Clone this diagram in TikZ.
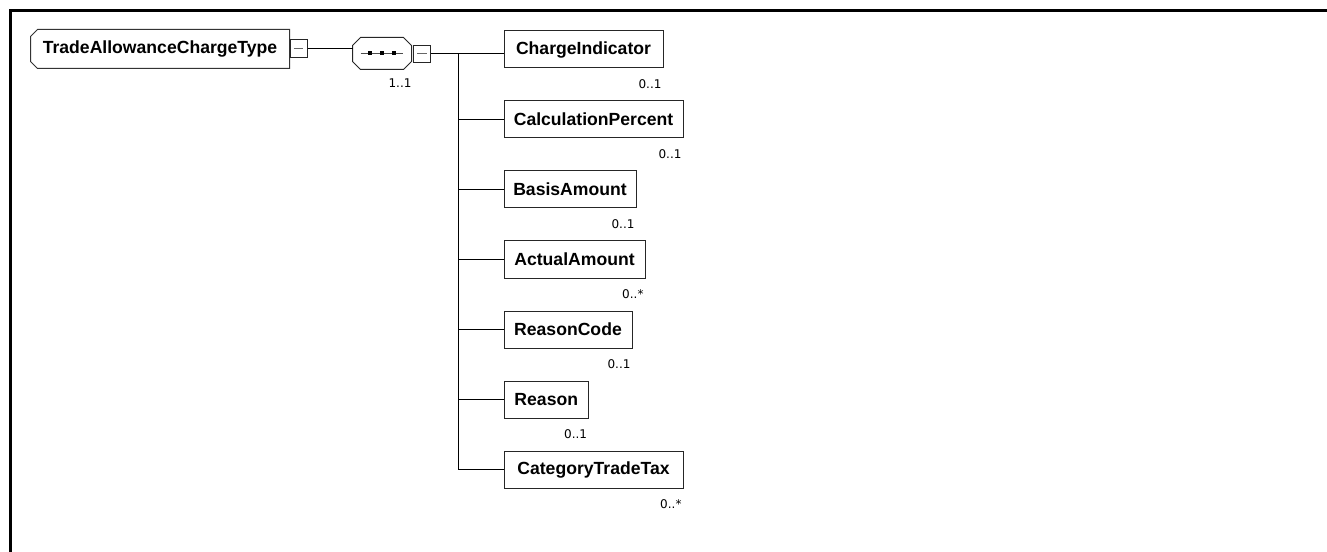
\documentclass[tikz,border=0pt]{standalone}
\usepackage{fontspec}
\usetikzlibrary{calc}
\newfontfamily\elemfont{Liberation Sans}
\newfontfamily\multfont{DejaVu Sans}
\tikzset{every picture/.style={line width=0.75pt}}

\begin{document}
\begin{tikzpicture}[x=0.75pt,y=0.75pt,yscale=-1,xscale=1,
  elembox/.style={draw=black!85, fill=white, inner sep=0pt, minimum height=27.75pt, anchor=west,
    font=\elemfont\fontsize{13.2pt}{15pt}\selectfont\bfseries},
  typebox/.style={inner sep=0pt, minimum width=193.5pt, minimum height=28.5pt,
    font=\elemfont\fontsize{13.2pt}{15pt}\selectfont\bfseries},
  seqbox/.style={inner sep=0pt, minimum width=43.5pt, minimum height=23.25pt},
  minusbox/.style={draw=black!85, fill=white, inner sep=0pt, minimum width=12.75pt, minimum height=13pt},
  mult/.style={anchor=north east, inner sep=0pt, font=\multfont\fontsize{9pt}{11pt}\selectfont}
]
%set diagram frame: 1327 x 552
\useasboundingbox (0,0) rectangle (1327,552);
\draw [line width=2.25pt] (1327,10.5) -- (10.5,10.5) -- (10.5,552);

% Text Node
\node [typebox] (root) at (160,49) {TradeAllowanceChargeType};
\draw [black!80] ($(root.north west)+(7,0)$) -- (root.north east) -- (root.south east)
  -- ($(root.south west)+(7,0)$) -- ($(root.south west)+(0,-7)$) -- ($(root.north west)+(0,7)$) -- cycle;
\node [minusbox] (rootM) at (298.5,48.5) {};
\draw [black!60] ([xshift=-3.4pt]rootM.center) -- ([xshift=3.4pt]rootM.center);
% Sequence
\node [seqbox] (seq) at (382,53.5) {};
\draw [black!85] ($(seq.north west)+(8,0)$) -- ($(seq.north east)+(-8,0)$) -- ($(seq.north east)+(0,8)$)
  -- ($(seq.south east)+(0,-8)$) -- ($(seq.south east)+(-8,0)$) -- ($(seq.south west)+(8,0)$)
  -- ($(seq.south west)+(0,-8)$) -- ($(seq.north west)+(0,8)$) -- cycle;
\draw [black!70] ([xshift=-16.1pt]seq.center) -- ([xshift=16.1pt]seq.center);
\foreach \dx in {-9,0,9} \fill ([xshift=\dx pt]seq.center) +(-2,-2) rectangle +(2,2);
\node [minusbox] (seqM) at (422,54) {};
\draw [black!60] ([xshift=-3.4pt]seqM.center) -- ([xshift=3.4pt]seqM.center);
\path (seq.south east) ++(0.5,8.5) node [mult] (seqN) {1..1};

% Text Node
\node [elembox, minimum width=119.25pt] (chgInd) at (503.5,49.5) {ChargeIndicator};
\path (chgInd.south east) ++(-1.5,10.5) node [mult] (chgIndN) {0..1};
% Text Node
\node [elembox, minimum width=134.25pt] (calcPct) at (503.5,119.5) {CalculationPercent};
\path (calcPct.south east) ++(-1.5,10.5) node [mult] (calcPctN) {0..1};
% Text Node
\node [elembox, minimum width=99pt] (basisAmt) at (503.5,189.5) {BasisAmount};
\path (basisAmt.south east) ++(-1.5,10.5) node [mult] (basisAmtN) {0..1};
% Text Node
\node [elembox, minimum width=105.75pt] (actAmt) at (503.5,259.5) {ActualAmount};
\path (actAmt.south east) ++(-1.5,10.5) node [mult] (actAmtN) {0..*};
% Text Node
\node [elembox, minimum width=96pt] (rsnCode) at (503.5,329.5) {ReasonCode};
\path (rsnCode.south east) ++(-1.5,10.5) node [mult] (rsnCodeN) {0..1};
% Text Node
\node [elembox, minimum width=63.4pt] (rsn) at (503.5,399.5) {Reason};
\path (rsn.south east) ++(-1.5,10.5) node [mult] (rsnN) {0..1};
% Text Node
\node [elembox, minimum width=134.25pt] (catTax) at (503.5,469.5) {CategoryTradeTax};
\path (catTax.south east) ++(-1.5,10.5) node [mult] (catTaxN) {0..*};

% Connection
\draw (rootM.east) -- (rootM.east -| seq.west);
\draw (seqM.east) -- (seqM.east -| chgInd.west);
\coordinate (bus) at (458.5,53.5);
\draw (bus) -- (bus |- catTax.west);
\draw (bus |- calcPct.west) -- (calcPct.west);
\draw (bus |- basisAmt.west) -- (basisAmt.west);
\draw (bus |- actAmt.west) -- (actAmt.west);
\draw (bus |- rsnCode.west) -- (rsnCode.west);
\draw (bus |- rsn.west) -- (rsn.west);
\draw (bus |- catTax.west) -- (catTax.west);

\end{tikzpicture}
\end{document}
